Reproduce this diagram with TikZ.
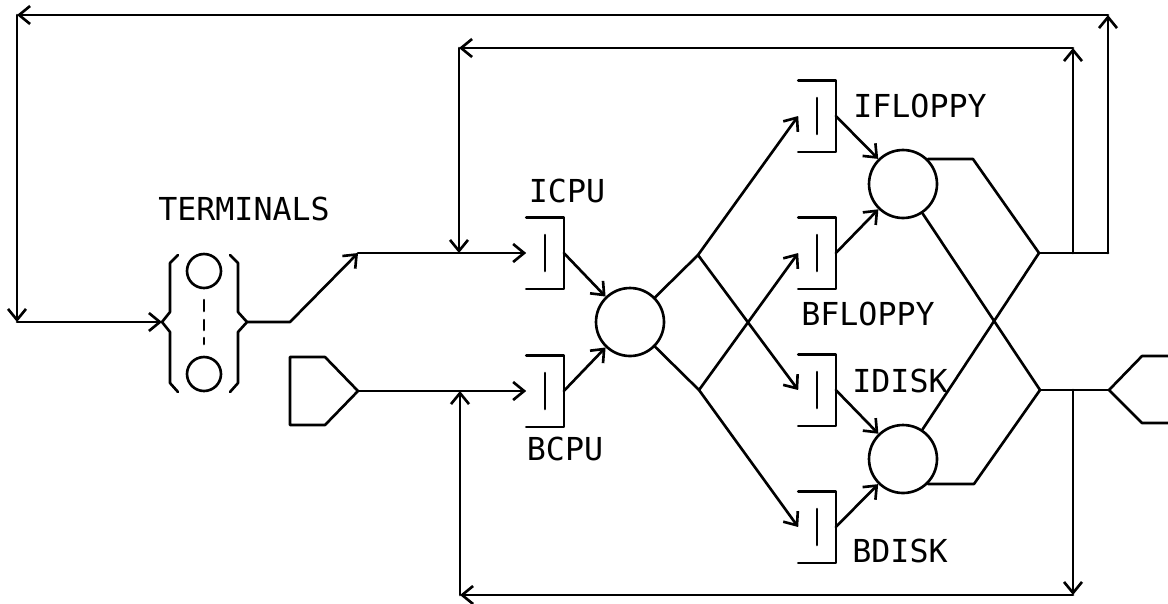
\documentclass[tikz,border=0pt]{standalone}
\usepackage{fontspec}
\newfontfamily\plotfont{DejaVu Sans Mono}
\usetikzlibrary{arrows.meta}

\begin{document}
\begin{tikzpicture}[x=0.02cm,y=-0.02cm,line width=1.5pt,line cap=round,line join=round,
    flow/.style={-{Straight Barb[length=2.2mm,width=3.6mm]}},
    place/.style={draw,circle,inner sep=0pt,minimum size=1.36cm},
    token/.style={draw,circle,inner sep=0pt,minimum size=0.68cm},
    trans/.style={inner sep=0pt,minimum width=0.7cm,minimum height=1.38cm},
    lbl/.style={font=\plotfont\fontsize{18}{20}\selectfont,inner sep=0pt,anchor=base}]
  \useasboundingbox (0,0) rectangle (1168,603);
  % terminals
  \coordinate (tin) at (162,322);
  \coordinate (tout) at (247,322);
  \node[token] (term1) at (204,271) {};
  \node[token] (term2) at (204,374) {};
  \draw (178,255) -- (170,263) -- (170,312) -- (tin) -- (170,332) -- (170,383) -- (178,392);
  \draw (230,255) -- (238,263) -- (238,312) -- (tout) -- (238,332) -- (238,383) -- (230,392);
  \foreach \a/\b in {300/311,320/330,338/344}
    \draw (204,\a) -- (204,\b);
  \node[lbl] (tterm) at (244,220) {TERMINALS};
  % batch source and sink
  \coordinate (src) at (358,391);
  \draw (290,357) -- (325,357) -- (src) -- (325,425) -- (290,425) -- cycle;
  \coordinate (snk) at (1109,390);
  \draw (1168,356) -- (1142,356) -- (snk) -- (1142,423) -- (1168,423);
  % places
  \node[place] (cpu) at (630,322) {};
  \node[place] (flp) at (903,184) {};
  \node[place] (dsk) at (903,459) {};
  % transitions
  \node[trans] (icpu) at (545,253) {};
  \node[trans] (bcpu) at (545,391) {};
  \node[trans] (iflp) at (817,116) {};
  \node[trans] (bflp) at (817,253) {};
  \node[trans] (idsk) at (817,390) {};
  \node[trans] (bdsk) at (817,527) {};
  \foreach \t in {icpu,bcpu,iflp,bflp,idsk,bdsk} {
    \draw (\t.north west) -- (\t.north east) -- (\t.south east) -- (\t.south west);
    \draw ([yshift=0.36cm]\t.center) -- ([yshift=-0.36cm]\t.center);
  }
  \node[lbl] (ticpu) at (567,202) {ICPU};
  \node[lbl] (tbcpu) at (565,460) {BCPU};
  \node[lbl] (tiflp) at (920,117) {IFLOPPY};
  \node[lbl] (tbflp) at (868,325) {BFLOPPY};
  \node[lbl] (tidsk) at (900,392) {IDISK};
  \node[lbl] (tbdsk) at (900,562) {BDISK};
  % connectors
  \coordinate (k1) at (290,322);
  \coordinate (k2) at (358,253);
  \coordinate (b1) at (698,255);
  \coordinate (b2) at (699,390);
  \coordinate (j1) at (1039,253);
  \coordinate (j2) at (1040,390);
  \draw[flow] (tout) -- (k1) -- (k2);
  \draw[flow] (k2) -- (icpu.west);
  \draw[flow] (src) -- (bcpu.west);
  \draw[flow] (icpu.east) -- (cpu);
  \draw[flow] (bcpu.east) -- (cpu);
  \draw (cpu) -- (b1);
  \draw (cpu) -- (b2);
  \draw[flow] (b1) -- (iflp.west);
  \draw[flow] (b1) -- (idsk.west);
  \draw[flow] (b2) -- (bflp.west);
  \draw[flow] (b2) -- (bdsk.west);
  \draw[flow] (iflp.east) -- (flp);
  \draw[flow] (bflp.east) -- (flp);
  \draw[flow] (idsk.east) -- (dsk);
  \draw[flow] (bdsk.east) -- (dsk);
  \draw (flp.45) -- ++(45,0) -- (j1);
  \draw (dsk) -- (j1);
  \draw (flp) -- (j2);
  \draw (dsk.-45) -- ++(46,0) -- (j2);
  % feedback loops
  \coordinate (r1) at (1073,253);
  \coordinate (r2) at (1108,253);
  \coordinate (o1) at (1108,15);
  \coordinate (o2) at (17,15);
  \coordinate (o3) at (17,322);
  \coordinate (i1) at (1073,48);
  \coordinate (i2) at (459,48);
  \coordinate (i3) at (459,253);
  \coordinate (s1) at (1073,390);
  \coordinate (d1) at (1073,595);
  \coordinate (d2) at (460,595);
  \coordinate (d3) at (460,391);
  \draw (j1) -- (r2);
  \draw[flow] (r2) -- (o1);
  \draw[flow] (o1) -- (o2);
  \draw[flow] (o2) -- (o3);
  \draw[flow] (o3) -- (tin);
  \draw[flow] (r1) -- (i1);
  \draw[flow] (i1) -- (i2);
  \draw[flow] (i2) -- (i3);
  \draw (j2) -- (snk);
  \draw[flow] (s1) -- (d1);
  \draw[flow] (d1) -- (d2);
  \draw[flow] (d2) -- (d3);
\end{tikzpicture}
\end{document}
